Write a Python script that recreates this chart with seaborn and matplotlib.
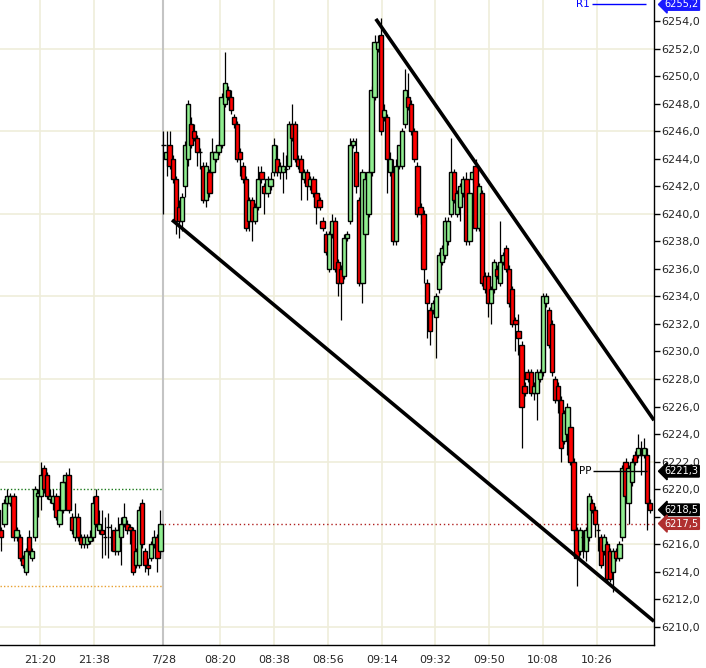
import matplotlib

matplotlib.use("Agg")
import matplotlib.pyplot as plt
import matplotlib.transforms as mtransforms
import numpy as np
import pandas as pd
import seaborn as sns

# evening session, 1-minute bars up to 22:00
eve_open = [6218.5, 6217.0, 6217.5, 6219.0, 6219.0, 6219.5, 6216.5, 6216.5, 6215.0, 6214.0,
            6216.5, 6215.0, 6216.5, 6219.5, 6219.5, 6221.5, 6221.0, 6219.25, 6219.0, 6219.5,
            6217.5, 6218.5, 6220.5, 6221.0, 6218.0, 6216.5, 6218.0, 6216.5, 6216.0, 6216.0,
            6216.25, 6216.5, 6219.5, 6217.0, 6217.0, 6216.5, 6217.25, 6216.5, 6217.0, 6215.5,
            6216.5, 6217.5, 6217.5, 6217.25, 6217.0, 6214.5, 6214.5, 6219.0, 6215.5, 6214.5,
            6215.0, 6216.0, 6216.5, 6215.5]
eve_high = [6218.75, 6217.25, 6219.25, 6220.0, 6219.75, 6219.75, 6217.25, 6216.75, 6215.25, 6215.75,
            6217.0, 6215.75, 6220.25, 6220.0, 6222.0, 6221.75, 6221.25, 6220.0, 6220.0, 6219.75,
            6218.75, 6220.75, 6221.25, 6221.5, 6218.25, 6219.0, 6218.25, 6216.75, 6216.75, 6216.75,
            6217.0, 6219.5, 6220.0, 6218.5, 6218.5, 6218.0, 6218.25, 6217.5, 6217.25, 6218.0,
            6218.0, 6219.0, 6217.75, 6217.5, 6217.25, 6215.75, 6218.75, 6219.25, 6215.75, 6215.0,
            6216.25, 6217.0, 6216.75, 6218.5]
eve_low = [6216.75, 6215.5, 6217.25, 6218.75, 6218.75, 6216.25, 6216.25, 6214.75, 6214.25, 6213.75,
           6215.25, 6214.75, 6216.25, 6218.0, 6218.5, 6219.75, 6219.25, 6219.0, 6218.5, 6217.75,
           6217.25, 6218.25, 6220.25, 6218.25, 6216.75, 6216.25, 6216.25, 6215.75, 6215.75, 6215.75,
           6216.0, 6216.25, 6217.25, 6216.75, 6215.0, 6215.25, 6215.0, 6215.5, 6215.25, 6215.25,
           6214.5, 6217.25, 6216.75, 6216.0, 6213.75, 6214.25, 6214.25, 6215.75, 6214.0, 6213.75,
           6214.75, 6215.75, 6214.0, 6215.25]
eve_close = [6217.0, 6216.5, 6219.0, 6219.5, 6219.5, 6216.5, 6217.0, 6215.0, 6214.5, 6215.5,
             6215.5, 6215.5, 6220.0, 6219.75, 6221.0, 6220.0, 6219.5, 6219.5, 6219.5, 6218.0,
             6218.5, 6220.5, 6221.0, 6218.5, 6217.0, 6218.0, 6216.5, 6216.0, 6216.5, 6216.5,
             6216.5, 6219.0, 6217.5, 6217.5, 6216.75, 6216.5, 6217.25, 6216.5, 6215.5, 6217.0,
             6217.5, 6218.0, 6217.0, 6217.0, 6214.0, 6215.5, 6218.5, 6216.0, 6214.5, 6214.25,
             6216.0, 6216.5, 6215.0, 6217.5]

# day session from 7/28 open
day_open = [6245.0, 6244.0, 6245.0, 6244.0, 6242.5, 6240.5, 6239.5, 6242.0, 6244.0, 6246.5,
            6246.0, 6245.5, 6244.5, 6243.5, 6241.0, 6243.0, 6243.0, 6244.0, 6244.5, 6245.0,
            6248.0, 6249.0, 6248.5, 6247.0, 6246.5, 6244.5, 6243.5, 6242.5, 6239.5, 6241.0,
            6239.5, 6240.5, 6243.0, 6242.0, 6241.5, 6242.0, 6243.0, 6244.0, 6243.0, 6243.0,
            6243.25, 6243.5, 6246.5, 6246.5, 6244.0, 6244.0, 6242.5, 6243.0, 6242.0, 6242.5,
            6241.5, 6241.0, 6239.5, 6238.5, 6236.0, 6238.5, 6239.5, 6236.5, 6236.0, 6235.5,
            6238.25, 6239.5, 6245.0, 6244.5, 6241.0, 6235.0, 6238.5, 6240.0, 6243.0, 6248.5,
            6252.0, 6253.0, 6247.0, 6247.0, 6243.0, 6243.0, 6238.0, 6243.5, 6243.5, 6246.5,
            6248.5, 6248.0, 6246.0, 6243.5, 6240.5, 6240.0, 6235.0, 6233.0, 6233.0, 6232.5,
            6234.5, 6236.5, 6237.0, 6238.0, 6240.0, 6243.0, 6240.0, 6240.5, 6241.5, 6242.5,
            6238.0, 6242.5, 6243.5, 6239.0, 6241.5, 6235.5, 6235.5, 6233.5, 6234.5, 6236.0,
            6235.0, 6236.5, 6237.5, 6236.0, 6234.5, 6232.25, 6231.5, 6230.5, 6227.5, 6228.5,
            6228.5, 6227.0, 6227.0, 6228.0, 6228.5, 6233.5, 6233.0, 6232.0, 6228.0, 6227.5,
            6226.5, 6223.5, 6224.0, 6224.5, 6222.0, 6217.0, 6215.5, 6216.5, 6215.5, 6216.5,
            6219.0, 6218.5, 6217.0, 6216.5, 6215.5, 6216.0, 6215.5, 6214.0, 6215.5, 6215.0,
            6216.5, 6222.0, 6219.0, 6220.5, 6222.5, 6222.5, 6222.5, 6222.5, 6222.5, 6219.0]
day_high = [6246.0, 6246.0, 6246.0, 6244.25, 6242.75, 6241.0, 6241.5, 6245.25, 6248.25, 6247.0,
            6246.5, 6245.75, 6244.75, 6243.75, 6243.75, 6243.25, 6245.5, 6245.0, 6245.25, 6248.75,
            6251.75, 6249.25, 6249.0, 6247.25, 6246.75, 6244.75, 6243.75, 6242.75, 6241.25, 6241.25,
            6240.75, 6243.5, 6243.5, 6242.25, 6242.75, 6243.0, 6245.5, 6245.0, 6243.75, 6244.5,
            6244.25, 6246.75, 6248.0, 6246.75, 6244.25, 6244.25, 6243.25, 6243.25, 6242.75, 6242.75,
            6241.75, 6241.25, 6239.75, 6238.75, 6238.75, 6240.0, 6239.75, 6236.75, 6236.25, 6238.5,
            6238.75, 6245.5, 6245.5, 6245.5, 6241.25, 6243.25, 6242.75, 6243.25, 6249.25, 6253.0,
            6253.0, 6254.25, 6248.0, 6247.25, 6244.5, 6244.0, 6244.0, 6245.0, 6246.25, 6250.5,
            6250.25, 6248.25, 6246.25, 6243.75, 6240.75, 6240.25, 6235.25, 6233.25, 6233.75, 6234.25,
            6237.25, 6237.75, 6239.75, 6239.75, 6245.5, 6243.25, 6241.75, 6242.25, 6242.75, 6243.0,
            6241.75, 6243.25, 6244.0, 6242.25, 6241.75, 6235.75, 6235.75, 6234.75, 6236.75, 6236.25,
            6239.5, 6237.25, 6237.75, 6236.25, 6234.75, 6232.5, 6232.75, 6230.75, 6227.75, 6228.75,
            6228.75, 6227.75, 6228.75, 6228.75, 6234.25, 6234.25, 6233.25, 6232.25, 6228.25, 6227.75,
            6226.75, 6225.75, 6226.25, 6224.75, 6222.25, 6217.25, 6217.25, 6217.0, 6217.25, 6219.75,
            6219.25, 6218.75, 6217.5, 6216.75, 6216.75, 6216.25, 6215.75, 6215.75, 6215.75, 6216.25,
            6221.75, 6222.25, 6221.75, 6222.25, 6222.75, 6224.0, 6223.5, 6223.75, 6223.0, 6219.25]
day_low = [6240.0, 6242.75, 6243.25, 6242.25, 6238.5, 6238.25, 6238.75, 6241.25, 6243.5, 6244.75,
           6245.25, 6243.5, 6243.25, 6240.75, 6240.5, 6241.25, 6242.75, 6243.75, 6244.25, 6244.75,
           6247.75, 6248.25, 6247.25, 6246.25, 6243.75, 6242.75, 6242.25, 6238.75, 6238.75, 6238.0,
           6239.25, 6240.25, 6242.25, 6240.0, 6241.25, 6241.75, 6242.75, 6242.75, 6242.5, 6241.5,
           6242.5, 6243.25, 6245.25, 6243.75, 6243.25, 6241.0, 6242.25, 6241.0, 6241.75, 6241.25,
           6239.25, 6240.25, 6238.75, 6237.0, 6235.75, 6238.25, 6235.75, 6234.0, 6232.25, 6235.25,
           6238.0, 6239.25, 6244.75, 6241.5, 6234.75, 6233.5, 6238.25, 6239.75, 6242.75, 6248.25,
           6251.75, 6245.75, 6246.75, 6241.5, 6242.75, 6237.75, 6237.75, 6243.25, 6243.25, 6246.25,
           6247.5, 6245.75, 6243.75, 6239.75, 6239.25, 6235.0, 6231.0, 6230.5, 6232.75, 6229.5,
           6234.25, 6236.25, 6236.75, 6237.75, 6239.75, 6240.75, 6239.75, 6239.5, 6241.25, 6237.75,
           6237.75, 6242.25, 6238.75, 6238.75, 6234.75, 6234.25, 6232.5, 6232.0, 6234.25, 6235.25,
           6234.75, 6236.25, 6235.75, 6233.25, 6231.75, 6230.0, 6229.75, 6223.0, 6226.75, 6227.75,
           6226.75, 6226.5, 6225.0, 6227.75, 6228.25, 6233.25, 6230.25, 6228.25, 6226.25, 6225.5,
           6222.0, 6223.25, 6222.5, 6221.75, 6216.75, 6213.0, 6215.25, 6215.0, 6214.75, 6216.25,
           6218.25, 6216.5, 6215.5, 6214.25, 6215.25, 6213.25, 6213.25, 6212.5, 6214.75, 6214.75,
           6216.25, 6219.25, 6217.5, 6220.25, 6221.75, 6222.25, 6221.0, 6222.25, 6217.0, 6218.25]
day_close = [6245.0, 6244.5, 6243.5, 6242.5, 6239.5, 6239.5, 6241.25, 6245.0, 6248.0, 6245.0,
             6245.5, 6244.5, 6244.5, 6241.0, 6243.5, 6241.5, 6244.5, 6244.5, 6245.0, 6248.5,
             6249.5, 6248.5, 6247.5, 6246.5, 6244.0, 6244.0, 6242.5, 6239.0, 6241.0, 6239.5,
             6240.5, 6242.5, 6242.5, 6241.5, 6242.5, 6242.5, 6245.0, 6243.0, 6243.5, 6243.5,
             6243.25, 6246.5, 6245.5, 6244.0, 6243.5, 6243.0, 6243.0, 6242.0, 6242.5, 6241.5,
             6240.5, 6240.5, 6239.0, 6237.25, 6238.5, 6239.5, 6236.0, 6235.0, 6235.0, 6238.25,
             6238.5, 6245.0, 6245.25, 6242.0, 6235.0, 6243.0, 6242.5, 6243.0, 6249.0, 6252.5,
             6252.5, 6246.0, 6247.5, 6244.0, 6244.0, 6238.0, 6243.5, 6245.0, 6246.0, 6249.0,
             6247.75, 6246.0, 6244.0, 6240.0, 6240.0, 6236.0, 6233.5, 6231.5, 6233.5, 6234.0,
             6237.0, 6237.5, 6239.5, 6239.5, 6243.0, 6241.0, 6241.5, 6242.0, 6242.5, 6238.0,
             6241.5, 6243.0, 6239.0, 6242.0, 6235.0, 6234.5, 6233.5, 6234.5, 6236.5, 6235.5,
             6236.5, 6237.0, 6236.0, 6233.5, 6232.0, 6232.0, 6231.0, 6226.0, 6227.0, 6228.0,
             6227.0, 6227.5, 6228.5, 6228.5, 6234.0, 6234.0, 6230.5, 6228.5, 6226.5, 6226.5,
             6223.0, 6225.5, 6226.0, 6222.0, 6217.0, 6215.0, 6217.0, 6216.5, 6217.0, 6219.5,
             6218.5, 6217.5, 6217.0, 6214.5, 6216.5, 6213.5, 6213.5, 6215.5, 6215.0, 6216.0,
             6221.5, 6219.5, 6221.5, 6222.0, 6222.0, 6223.0, 6222.5, 6223.0, 6219.0, 6218.5]

# time axis labels, positioned in bar units
time_labels = ["21:20", "21:38", "", "7/28", "08:20", "08:38", "08:56",
               "09:14", "09:32", "09:50", "10:08", "10:26"]
label_bars = [13.6, 31.3, 48.9, 54.0, 72.5, 90.1, 107.8, 125.4, 142.7, 160.4, 178.0, 195.7]

# levels and channel
pp_level = 6221.3
r1_level = 6255.2
last_price = 6218.5
settle_price = 6217.5
prev_high = 6220.0
prev_low = 6213.0
upper_bars = [123.4, 214.3]
upper_prices = [6254.15, 6225.0]
lower_bars = [56.8, 214.3]
lower_prices = [6239.55, 6210.4]

sns.set_theme(style="white")
plt.rcParams["font.family"] = ["DejaVu Sans"]

day_start = 54
x_left, x_right = 0.57, 214.3
eve = pd.DataFrame({"open": eve_open, "high": eve_high, "low": eve_low, "close": eve_close})
eve["bar"] = np.arange(day_start - len(eve), day_start)
day = pd.DataFrame({"open": day_open, "high": day_high, "low": day_low, "close": day_close})
day["bar"] = np.arange(day_start, day_start + len(day))
bars = pd.concat([eve, day], ignore_index=True)

fig = plt.figure(figsize=(7.06, 6.68), dpi=100)
ax = fig.add_axes([0, 23 / 668, 654 / 706, 645 / 668])
ax.set_xlim(x_left, x_right)
ax.set_ylim(6208.68, 6255.525)

grid_color = "#efedda"
for price in np.arange(6210, 6253, 6):
    ax.axhline(price, color=grid_color, lw=1.2, zorder=0)
for b, lab in zip(label_bars, time_labels):
    if lab and lab != "7/28":
        ax.axvline(b, color=grid_color, lw=1.2, zorder=0)
ax.axvline(day_start - 0.2, color="#c4c4c4", lw=1.5, zorder=0)

# reference levels
ax.hlines(prev_high, x_left, day_start - 0.2, colors="#1a7a1a", linestyles=(0, (1, 1.5)), lw=1, zorder=1)
ax.hlines(prev_low, x_left, day_start - 0.2, colors="#e8a030", linestyles=(0, (1, 1.5)), lw=1, zorder=1)
ax.hlines(settle_price, day_start - 1.2, x_right, colors="#b02020", linestyles=(0, (1, 2)), lw=1, zorder=1)

up = bars.close >= bars.open
ax.vlines(bars.bar, bars.low, bars.high, color="black", lw=0.9, zorder=2)
ax.bar(bars.bar, bars.close - bars.open, bottom=bars.open, width=1.4,
       color=np.where(up, "#90ee90", "#ff0000"), edgecolor="black", linewidth=1.0, zorder=3)

# channel
ax.plot(upper_bars, upper_prices, color="black", lw=2.6, zorder=4, solid_capstyle="butt")
ax.plot(lower_bars, lower_prices, color="black", lw=2.6, zorder=4, solid_capstyle="butt")

# pivot and R1 lines
ax.hlines(pp_level, 194.4, 212.0, colors="black", lw=1, zorder=4)
ax.text(193.8, pp_level, "PP", ha="right", va="center", fontsize=7.5, color="black", zorder=5)
ax.hlines(r1_level, 194.0, 211.7, colors="#0000ff", lw=1, zorder=4)
ax.text(193.4, r1_level, "R1", ha="right", va="center", fontsize=7.5, color="#0000ff", zorder=5)

# axes cosmetics
for side in ("top", "left"):
    ax.spines[side].set_visible(False)
for side in ("right", "bottom"):
    ax.spines[side].set_visible(True)
    ax.spines[side].set_color("black")
    ax.spines[side].set_linewidth(1.0)
ax.yaxis.tick_right()
yt = np.arange(6210, 6255, 2)
ax.set_yticks(yt)
# the 6218 label sits fully under the last/settle flags, as in the source chart
ax.set_yticklabels(["" if v == 6218 else f"{v:.1f}".replace(".", ",") for v in yt])
ax.set_xticks(label_bars)
ax.set_xticklabels(time_labels)
ax.tick_params(axis="y", direction="out", length=4, width=1, color="black", labelsize=8, pad=1)
ax.tick_params(axis="x", direction="out", length=5, width=1, color="black", labelsize=8, pad=2)
ax.grid(False)

# price flags on the right axis
blend = mtransforms.blended_transform_factory(ax.transAxes, ax.transData)
flags = [(pp_level, "black"), (last_price, "black"), (settle_price, "#b03030"), (r1_level, "#1a1aff")]
for value, fc in flags:
    ax.text(1.016, value, f"{value:.1f}".replace(".", ","), transform=blend, ha="left", va="center",
            fontsize=7, color="white", zorder=10, clip_on=False,
            bbox=dict(boxstyle="larrow,pad=0.08", fc=fc, ec=fc))

fig.savefig("out.png", dpi=100, facecolor="white")
